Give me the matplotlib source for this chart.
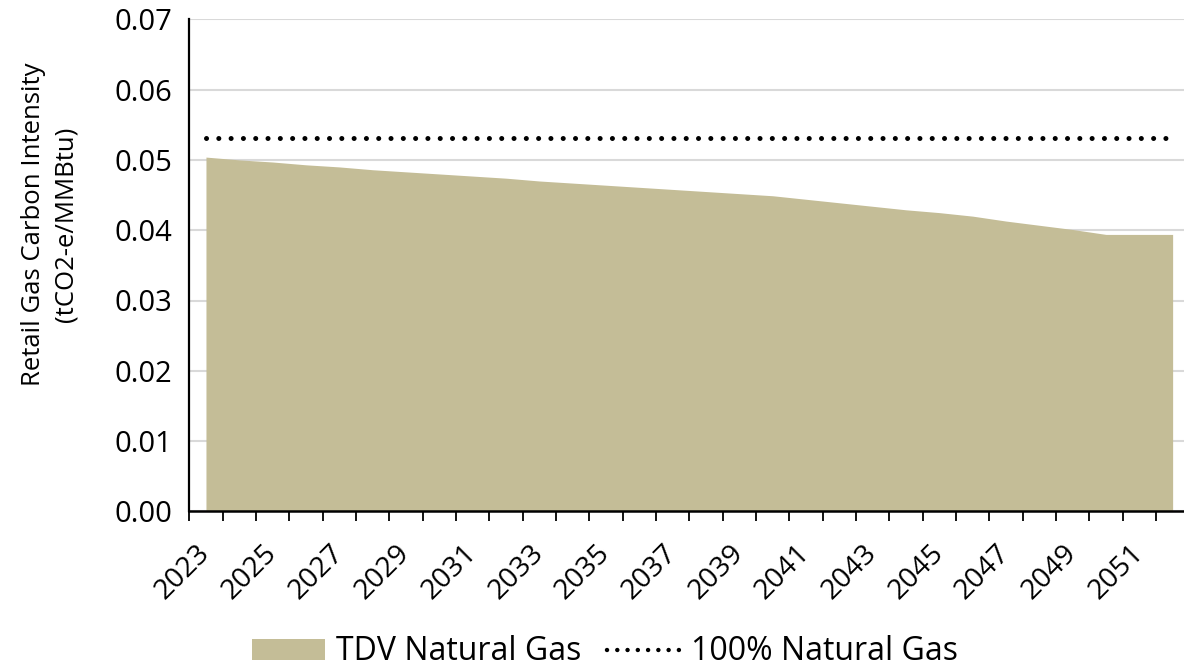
import numpy as np
import matplotlib.pyplot as plt
from matplotlib.patches import Patch
from matplotlib.lines import Line2D

plt.rcParams['font.family'] = ['Open Sans', 'DejaVu Sans']

# anos e intensidade de carbono (tCO2-e/MMBtu)
years = list(range(2023, 2053))
tdv_gas = [0.0504, 0.0500, 0.0497, 0.0493, 0.0490, 0.0486, 0.0483, 0.0480,
           0.0477, 0.0474, 0.0470, 0.0467, 0.0464, 0.0461, 0.0458, 0.0455,
           0.0452, 0.0449, 0.0444, 0.0439, 0.0434, 0.0429, 0.0425, 0.0420,
           0.0413, 0.0407, 0.0401, 0.0394, 0.0394, 0.0394]
natural_gas = [0.0531] * len(years)
y_ticks = [0.00, 0.01, 0.02, 0.03, 0.04, 0.05, 0.06, 0.07]

fill_color = '#c4bd97'

fig = plt.figure(figsize=(11.84, 6.7), dpi=100)
W, H = 1184, 670
# eixo com a borda direita fora da figura (imagem cortada)
ax = fig.add_axes([189.3 / W, 1 - 511.4 / H, 1000 / W, (511.4 - 19.3) / H])

x = np.arange(len(years))
ax.fill_between(x, tdv_gas, 0, color=fill_color, lw=0, zorder=2)
ax.plot(x, natural_gas, color='black', lw=3.6, linestyle=(0, (0.01, 2.45)),
        dash_capstyle='round', zorder=3)

ax.set_xlim(-0.5, len(years) - 0.5)
ax.set_ylim(0, 0.07)
ax.set_yticks(y_ticks)
ax.set_yticklabels([f'{v:.2f}' for v in y_ticks])
ax.yaxis.grid(True, color='#d9d9d9', lw=1.5, zorder=0)
ax.set_axisbelow(True)
ax.tick_params(axis='y', length=0, pad=12, labelsize=21)

# rotulos a cada 2 anos, marcas entre categorias
ax.set_xticks(x[::2])
ax.set_xticklabels([str(y) for y in years[::2]], rotation=45, ha='right',
                   va='center', rotation_mode='anchor', fontsize=20.5)
ax.tick_params(axis='x', which='major', length=0, pad=27)
ax.set_xticks(np.arange(-0.5, len(years), 1), minor=True)
ax.tick_params(axis='x', which='minor', length=7, width=1.3, direction='out', color='black')

for s in ['top', 'right']:
    ax.spines[s].set_visible(False)
ax.spines['left'].set_linewidth(1.6)
ax.spines['bottom'].set_linewidth(1.8)

fig.text(50 / W, 1 - 224 / H, 'Retail Gas Carbon Intensity\n(tCO2-e/MMBtu)',
         rotation=90, ha='center', va='center', fontsize=18.5, linespacing=1.4)

handles = [Patch(facecolor=fill_color, edgecolor='none'),
           Line2D([], [], color='black', lw=3.2, linestyle=(0, (0.01, 2.3)),
                  dash_capstyle='round')]
fig.legend(handles, ['TDV Natural Gas', '100% Natural Gas'], loc='center',
           bbox_to_anchor=(605 / W, 1 - 652 / H), ncol=2, frameon=False,
           fontsize=23, handlelength=2.3, handleheight=0.65, handletextpad=0.33,
           columnspacing=0.8, borderpad=0.2)

fig.savefig('out.png', dpi=100)
